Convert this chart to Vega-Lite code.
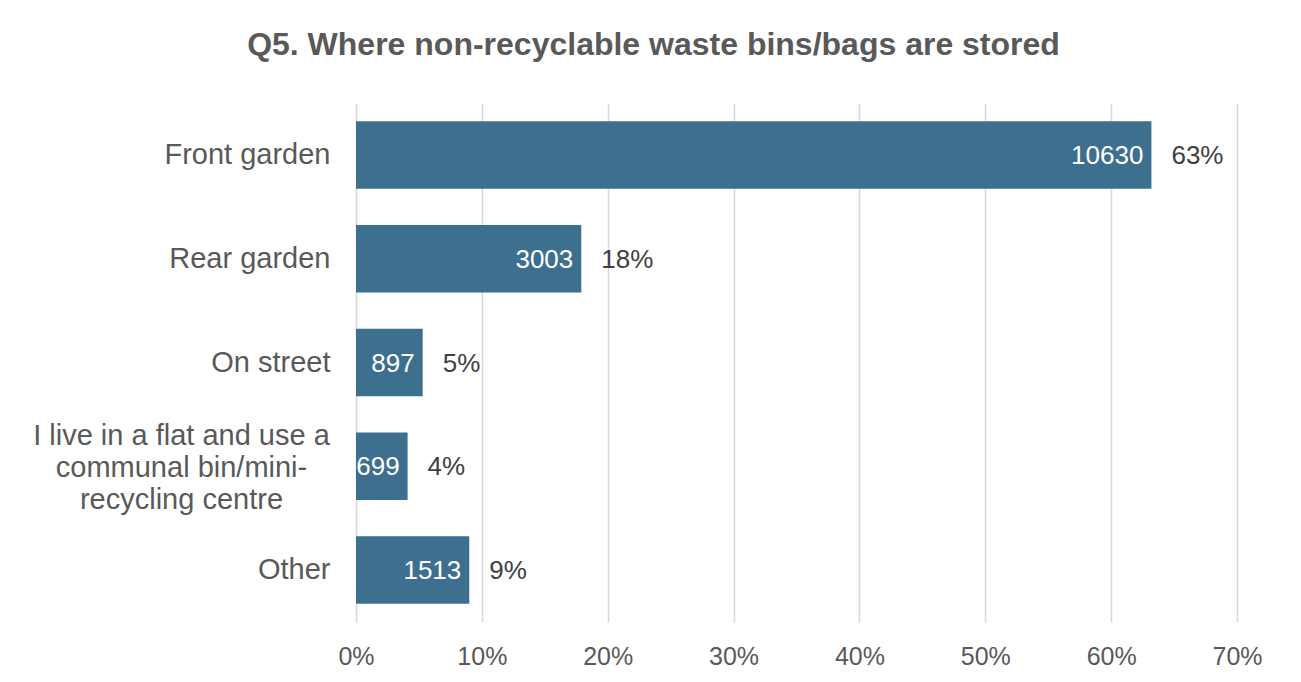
{
  "$schema": "https://vega.github.io/schema/vega-lite/v6.json",
  "autosize": "none",
  "width": 881,
  "height": 519,
  "padding": {"left": 356, "top": 103, "right": 64, "bottom": 60},
  "background": "white",
  "config": {
    "font": "Liberation Sans",
    "view": {"stroke": null}
  },
  "title": {
    "text": "Q5. Where non-recyclable waste bins/bags are stored",
    "font": "Liberation Sans",
    "fontSize": 32,
    "fontWeight": "bold",
    "color": "#595959",
    "anchor": "middle",
    "baseline": "alphabetic",
    "offset": 16,
    "dx": -143
  },
  "data": {
    "values": [
      {"category": "Front garden", "count": 10630, "pct": 0.632},
      {"category": "Rear garden", "count": 3003, "pct": 0.179},
      {"category": "On street", "count": 897, "pct": 0.053},
      {"category": "I live in a flat and use a communal bin/mini-recycling centre", "count": 699, "pct": 0.041},
      {"category": "Other", "count": 1513, "pct": 0.090}
    ]
  },
  "encoding": {
    "y": {
      "field": "category",
      "type": "nominal",
      "sort": null,
      "title": null,
      "scale": {"paddingInner": 0.35, "paddingOuter": 0.175},
      "axis": {
        "domain": false,
        "ticks": false,
        "labelFont": "Liberation Sans",
        "labelFontSize": 29,
        "labelColor": "#595959",
        "labelLimit": 400,
        "labelLineHeight": 32,
        "labelAlign": {"condition": {"test": "indexof(datum.label, 'flat') >= 0", "value": "center"}, "value": "right"},
        "labelPadding": {"condition": {"test": "indexof(datum.label, 'flat') >= 0", "value": 175}, "value": 26},
        "labelOffset": {"condition": {"test": "indexof(datum.label, 'flat') >= 0", "value": -30}, "value": 0},
        "labelExpr": "indexof(datum.label, 'flat') >= 0 ? ['I live in a flat and use a', 'communal bin/mini-', 'recycling centre'] : datum.label"
      }
    },
    "x": {
      "field": "pct",
      "type": "quantitative",
      "title": null,
      "scale": {"domain": [0, 0.7], "nice": false},
      "axis": {
        "format": ".0%",
        "values": [0, 0.1, 0.2, 0.3, 0.4, 0.5, 0.6, 0.7],
        "domain": false,
        "ticks": false,
        "grid": true,
        "gridColor": "#d9d9d9",
        "gridWidth": 1.6,
        "labelFlush": false,
        "labelFont": "Liberation Sans",
        "labelFontSize": 25,
        "labelColor": "#595959",
        "labelPadding": 22
      }
    }
  },
  "layer": [
    {
      "mark": {"type": "bar", "color": "#3d6f8e"}
    },
    {
      "mark": {"type": "text", "align": "right", "baseline": "middle", "dx": -8, "dy": 1, "fontSize": 26, "color": "white", "font": "Liberation Sans"},
      "encoding": {"text": {"field": "count", "type": "quantitative", "format": "d"}}
    },
    {
      "mark": {"type": "text", "align": "left", "baseline": "middle", "dx": 20, "dy": 1, "fontSize": 26, "color": "#404040", "font": "Liberation Sans"},
      "encoding": {"text": {"field": "pct", "type": "quantitative", "format": ".0%"}}
    }
  ]
}
